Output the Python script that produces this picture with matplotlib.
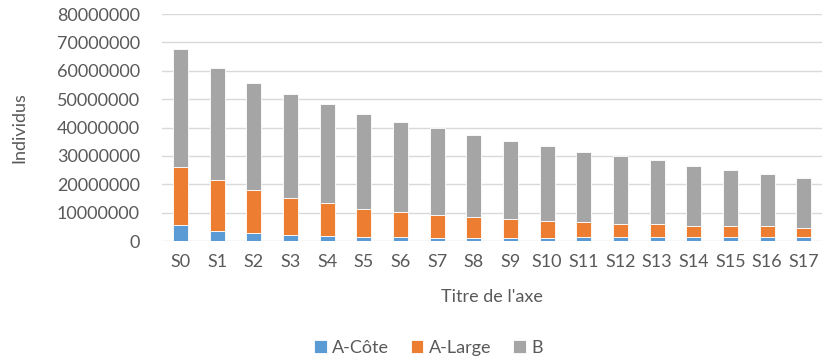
import numpy as np
import matplotlib.pyplot as plt

plt.rcParams['font.family'] = ['Lato', 'DejaVu Sans']

categories = ['S%d' % i for i in range(18)]

# cumulative heights (top of each stacked segment)
top_cote = [5.6, 3.6, 2.9, 2.1, 1.9, 1.5, 1.5, 1.2, 1.2, 1.2, 1.2, 1.4, 1.4, 1.4, 1.4, 1.4, 1.4, 1.4]
top_large = [26.2, 21.5, 18.1, 15.3, 13.3, 11.2, 10.1, 9.1, 8.4, 7.7, 7.1, 6.7, 6.2, 6.0, 5.5, 5.3, 5.3, 4.8]
top_total = [67.8, 61.0, 55.8, 51.9, 48.2, 44.8, 42.0, 40.0, 37.5, 35.4, 33.4, 31.3, 30.0, 28.6, 26.6, 25.2, 23.5, 22.4]

a_cote = np.array(top_cote) * 1e6
a_large = (np.array(top_large) - np.array(top_cote)) * 1e6
b = (np.array(top_total) - np.array(top_large)) * 1e6

txt = '#595959'
fig = plt.figure(figsize=(8.27, 3.61), dpi=100)
ax = fig.add_axes([0.196, 0.332, 0.798, 0.629])

x = np.arange(len(categories))
w = 0.41
ax.bar(x, a_cote, w, color='#5B9BD5', edgecolor='white', linewidth=0.6, label='A-Côte', zorder=3)
ax.bar(x, a_large, w, bottom=a_cote, color='#ED7D31', edgecolor='white', linewidth=0.6, label='A-Large', zorder=3)
ax.bar(x, b, w, bottom=a_cote + a_large, color='#A5A5A5', edgecolor='white', linewidth=0.6, label='B', zorder=3)

ax.set_xlim(-0.5, len(categories) - 0.5)
ax.set_ylim(0, 80e6)
ax.set_yticks(np.arange(0, 80e6 + 1, 10e6))
ax.set_yticklabels(['%d' % v for v in np.arange(0, 80e6 + 1, 10e6)])
ax.set_xticks(x)
ax.set_xticklabels(categories)
ax.grid(axis='y', color='#D9D9D9', linewidth=1, zorder=0)
for s in ax.spines.values():
    s.set_visible(False)
ax.tick_params(axis='both', length=0, colors=txt, labelsize=13)
ax.tick_params(axis='y', pad=16)
ax.tick_params(axis='x', pad=9)

ax.set_xlabel("Titre de l'axe", color=txt, fontsize=13, labelpad=14)
ax.set_ylabel('Individus', color=txt, fontsize=13, labelpad=21)

fig.legend(loc='center', bbox_to_anchor=(0.518, 0.036), ncol=3, frameon=False,
           fontsize=13, labelcolor=txt, handlelength=0.7, handleheight=0.7,
           handletextpad=0.3, columnspacing=1.2)

fig.savefig('out.png', dpi=100)
